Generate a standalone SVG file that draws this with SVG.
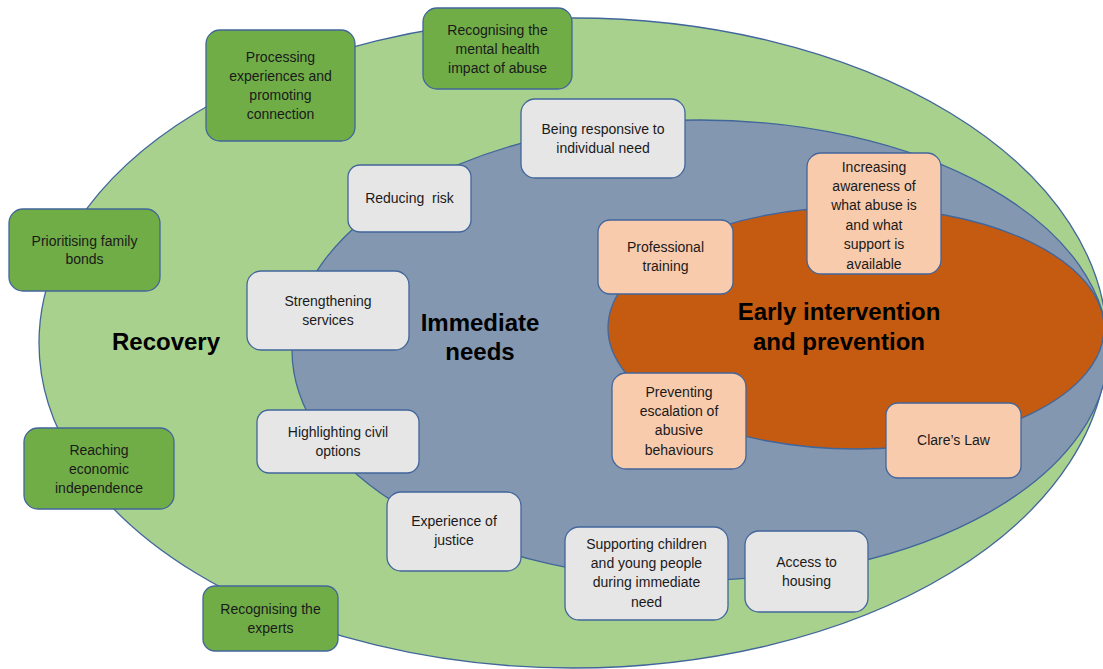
<svg xmlns="http://www.w3.org/2000/svg" width="1103" height="669" viewBox="0 0 1103 669">
<style>
.ring{stroke:#41669B;stroke-width:1.3}
.box{stroke:#41669B;stroke-width:1.3}
.g{fill:#70AD47}
.w{fill:#E7E6E6}
.p{fill:#F8CBAD}
.t{font-family:"Liberation Sans",Arial,sans-serif;font-size:14px;fill:#1a1a1a;text-anchor:middle}
.h{font-family:"Liberation Sans",Arial,sans-serif;font-size:24px;font-weight:bold;fill:#000;text-anchor:middle}
</style>
<rect width="1103" height="669" fill="#fff"/>
<g id="recovery">
<ellipse class="ring" cx="573" cy="343" rx="534" ry="325" fill="#A9D18E"/>
<text class="h" x="166" y="350">Recovery</text>
</g>
<g id="immediate-needs">
<ellipse class="ring" cx="700" cy="350" rx="408" ry="230" fill="#8497B0"/>
<text class="h" x="480" y="331">Immediate</text>
<text class="h" x="480" y="360">needs</text>
</g>
<g id="early-intervention">
<ellipse class="ring" cx="856" cy="328" rx="248" ry="121" fill="#C55A11"/>
<text class="h" x="839" y="320">Early intervention</text>
<text class="h" x="839" y="350">and prevention</text>
</g>
<g id="connectors"></g>
<g id="n-processing">
<rect class="box g" x="206" y="30" width="149" height="111" rx="14"/>
<text class="t" x="280.5" y="62">Processing</text>
<text class="t" x="280.5" y="81">experiences and</text>
<text class="t" x="280.5" y="100">promoting</text>
<text class="t" x="280.5" y="119">connection</text>
</g>
<g id="n-mental-health">
<rect class="box g" x="423" y="8" width="149" height="81" rx="14"/>
<text class="t" x="497.5" y="35">Recognising the</text>
<text class="t" x="497.5" y="54">mental health</text>
<text class="t" x="497.5" y="73">impact of abuse</text>
</g>
<g id="n-family">
<rect class="box g" x="9" y="209" width="151" height="82" rx="14"/>
<text class="t" x="84.5" y="246">Prioritising family</text>
<text class="t" x="84.5" y="264">bonds</text>
</g>
<g id="n-economic">
<rect class="box g" x="24" y="428" width="150" height="81" rx="14"/>
<text class="t" x="99" y="455">Reaching</text>
<text class="t" x="99" y="474">economic</text>
<text class="t" x="99" y="493">independence</text>
</g>
<g id="n-experts">
<rect class="box g" x="203" y="586" width="135" height="65" rx="12"/>
<text class="t" x="270.5" y="614">Recognising the</text>
<text class="t" x="270.5" y="633">experts</text>
</g>
<g id="n-responsive">
<rect class="box w" x="521" y="99" width="164" height="79" rx="14"/>
<text class="t" x="603" y="134">Being responsive to</text>
<text class="t" x="603" y="153">individual need</text>
</g>
<g id="n-risk">
<rect class="box w" x="348" y="165" width="123" height="67" rx="12"/>
<text class="t" x="409.5" y="203" xml:space="preserve">Reducing  risk</text>
</g>
<g id="n-strengthening">
<rect class="box w" x="247" y="271" width="162" height="79" rx="14"/>
<text class="t" x="328" y="306">Strengthening</text>
<text class="t" x="328" y="325">services</text>
</g>
<g id="n-civil">
<rect class="box w" x="257" y="410" width="162" height="63" rx="12"/>
<text class="t" x="338" y="437">Highlighting civil</text>
<text class="t" x="338" y="456">options</text>
</g>
<g id="n-justice">
<rect class="box w" x="387" y="492" width="134" height="79" rx="14"/>
<text class="t" x="454" y="526">Experience of</text>
<text class="t" x="454" y="545">justice</text>
</g>
<g id="n-children">
<rect class="box w" x="565" y="527" width="163" height="93" rx="14"/>
<text class="t" x="646.5" y="549">Supporting children</text>
<text class="t" x="646.5" y="568">and young people</text>
<text class="t" x="646.5" y="587">during immediate</text>
<text class="t" x="646.5" y="607">need</text>
</g>
<g id="n-housing">
<rect class="box w" x="745" y="531" width="123" height="81" rx="14"/>
<text class="t" x="806.5" y="567">Access to</text>
<text class="t" x="806.5" y="586">housing</text>
</g>
<g id="n-training">
<rect class="box p" x="598" y="220" width="135" height="74" rx="12"/>
<text class="t" x="665.5" y="252">Professional</text>
<text class="t" x="665.5" y="271">training</text>
</g>
<g id="n-awareness">
<rect class="box p" x="807" y="153" width="134" height="121" rx="14"/>
<text class="t" x="874" y="172">Increasing</text>
<text class="t" x="874" y="191">awareness of</text>
<text class="t" x="874" y="210">what abuse is</text>
<text class="t" x="874" y="230">and what</text>
<text class="t" x="874" y="249">support is</text>
<text class="t" x="874" y="269">available</text>
</g>
<g id="n-escalation">
<rect class="box p" x="612" y="373" width="134" height="96" rx="14"/>
<text class="t" x="679" y="397">Preventing</text>
<text class="t" x="679" y="416">escalation of</text>
<text class="t" x="679" y="435">abusive</text>
<text class="t" x="679" y="455">behaviours</text>
</g>
<g id="n-clares-law">
<rect class="box p" x="886" y="403" width="135" height="75" rx="12"/>
<text class="t" x="953.5" y="445">Clare’s Law</text>
</g>
</svg>
